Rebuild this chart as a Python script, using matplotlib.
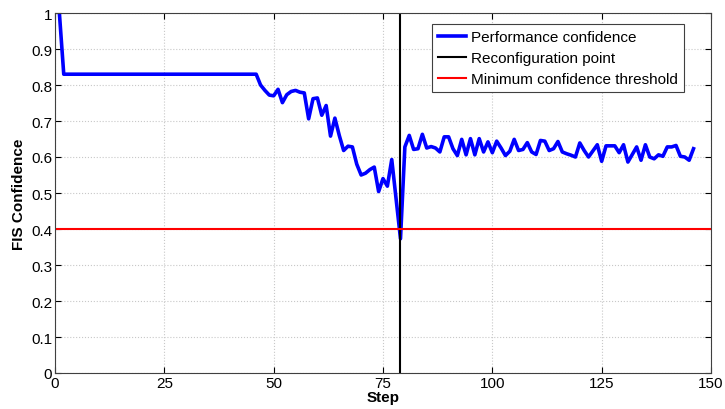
import numpy as np
import matplotlib
matplotlib.use("Agg")
import matplotlib.pyplot as plt

# ======================
# DATOS
# ======================
steps = np.arange(1, 147)
conf_decline = [0.80, 0.785, 0.772, 0.77, 0.788, 0.751, 0.773, 0.782, 0.785, 0.780,
                0.778, 0.706, 0.762, 0.764, 0.716, 0.743, 0.658, 0.708, 0.66, 0.618,
                0.630, 0.628, 0.58, 0.550, 0.555, 0.565, 0.572, 0.504, 0.540, 0.519,
                0.593, 0.484, 0.373]
conf_after = [0.628, 0.660, 0.621, 0.623, 0.663, 0.625, 0.629, 0.625, 0.614, 0.656,
              0.656, 0.623, 0.604, 0.649, 0.606, 0.651, 0.606, 0.651, 0.614, 0.642,
              0.612, 0.644, 0.625, 0.604, 0.616, 0.649, 0.618, 0.621, 0.640, 0.614,
              0.607, 0.646, 0.644, 0.618, 0.623, 0.643, 0.614, 0.609, 0.605, 0.600,
              0.639, 0.618, 0.600, 0.617, 0.634, 0.588, 0.631, 0.631, 0.631, 0.612,
              0.634, 0.586, 0.607, 0.628, 0.591, 0.634, 0.600, 0.595, 0.606, 0.602,
              0.628, 0.628, 0.632, 0.602, 0.600, 0.591, 0.623]
confidence = [1.0] + [0.83] * 45 + conf_decline + conf_after

reconfig_step = 79
threshold = 0.4

# ======================
# FIGURA
# ======================
plt.rcParams['font.family'] = ['Liberation Sans Narrow', 'Liberation Sans', 'DejaVu Sans']

fig = plt.figure(figsize=(7.25, 4.1), dpi=100)
ax = fig.add_axes([55 / 725, 1 - 374 / 410, 656 / 725, 360 / 410])

ax.plot(steps, confidence, color='#0000ff', lw=2.6, label='Performance confidence')
ax.axvline(reconfig_step, color='black', lw=1.5, label='Reconfiguration point')
ax.axhline(threshold, color='#ff0000', lw=1.5, label='Minimum confidence threshold')

ax.set_xlim(0, 150)
ax.set_ylim(0, 1)
ax.set_xticks(np.arange(0, 151, 25))
ax.set_yticks(np.arange(0, 1.01, 0.1))
ax.set_yticklabels(['0', '0.1', '0.2', '0.3', '0.4', '0.5', '0.6', '0.7', '0.8', '0.9', '1'])
ax.tick_params(direction='in', top=True, right=True, labelsize=11, length=4, pad=2)
ax.grid(True, linestyle=':', color='#c8c8c8', lw=0.8)
for s in ax.spines.values():
    s.set_color('#404040')
    s.set_linewidth(0.8)

ax.set_xlabel('Step', fontsize=11, fontweight='bold', labelpad=0.5)
ax.set_ylabel('FIS Confidence', fontsize=11, fontweight='bold', labelpad=4)

leg = ax.legend(loc='upper right', bbox_to_anchor=(0.959, 0.969), borderaxespad=0,
                prop={'family': ['Liberation Sans', 'DejaVu Sans'], 'size': 11},
                fancybox=False, framealpha=1, edgecolor='#404040',
                handlelength=1.8, handletextpad=0.35, labelspacing=0.45, borderpad=0.4)
leg.get_frame().set_linewidth(0.8)

fig.savefig('out.png', dpi=100)
